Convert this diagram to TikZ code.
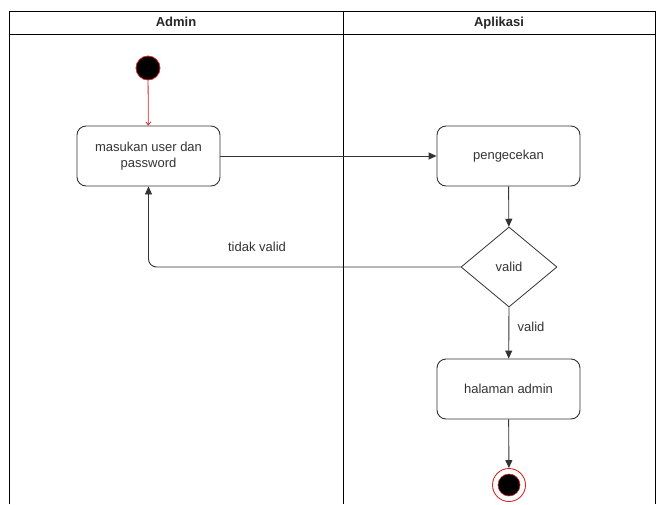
\documentclass[tikz,border=0pt]{standalone}
\usepackage{fontspec}
\setmainfont{Liberation Sans}
\usetikzlibrary{shapes.geometric,arrows.meta}
\definecolor{edge}{HTML}{333333}
\definecolor{redline}{HTML}{D62728}
\begin{document}
\begin{tikzpicture}[x=1pt,y=-1pt,
  every node/.style={font=\fontsize{13}{15.6}\selectfont, text=black!80},
  act/.style={draw=edge, line width=0.9pt, rounded corners=9pt, minimum width=143pt, minimum height=60pt, align=center, inner sep=2pt},
  dec/.style={draw=edge, line width=0.8pt, diamond, minimum width=96pt, minimum height=80pt, inner sep=0pt},
  arr/.style={draw=edge, line width=0.9pt, -{Triangle[length=8pt,width=7pt]}},
  lane/.style={draw=black, line width=0.9pt},
  hdr/.style={font=\bfseries\fontsize{13}{15.6}\selectfont, text=black!85, text height=9.5pt, text depth=2.5pt}
]
\useasboundingbox (0,0) rectangle (662,504);
% swimlanes
\draw[lane] (9,504) -- (9,11) -- (655,11) -- (655,504);
\draw[lane] (9,34) -- (655,34);
\draw[lane] (343,11) -- (343,504);
\node[hdr] (hadmin) at (176,22.5) {Admin};
\node[hdr] (happ) at (499,22.5) {Aplikasi};
% nodes
\node[circle, fill=black, draw=redline, line width=0.8pt, minimum size=24pt, inner sep=0pt] (start) at (148,68) {};
\node[act] (masukan) at (148.5,156) {masukan user dan\\password};
\node[act] (cek) at (508.5,156) {pengecekan};
\node[dec] (valid) at (509,267) {valid};
\node[act] (halaman) at (508.5,389) {halaman admin};
\node[circle, draw=redline, line width=0.9pt, minimum size=33pt, inner sep=0pt] (end) at (509,485) {};
\node[circle, fill=black, draw=redline, line width=0.6pt, minimum size=22pt, inner sep=0pt] (endin) at (509,485) {};
% edges
\draw[draw=redline, line width=0.8pt, -{Straight Barb[length=3pt,width=5pt]}] (start) -- (masukan);
\draw[arr] (masukan) -- (cek);
\draw[arr] (cek) -- (valid);
\draw[arr, rounded corners=8pt] (valid.west) -| (masukan.south);
\node (lbltv) at (257,247) {tidak valid};
\draw[arr] (valid.south) -- (halaman);
\node (lblv) at (531,327) {valid};
\draw[arr] (halaman) -- (end);
\end{tikzpicture}
\end{document}
